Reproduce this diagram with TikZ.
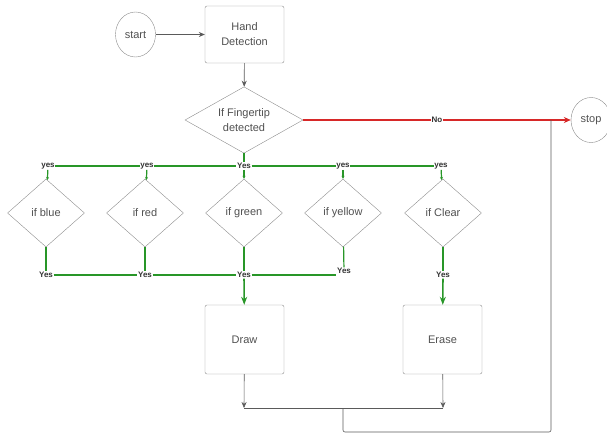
\documentclass[tikz,border=0pt]{standalone}
\usepackage{fontspec}
\setmainfont{Liberation Sans}
\usetikzlibrary{shapes.geometric,arrows.meta}
\definecolor{lgreen}{RGB}{40,150,40}
\definecolor{lred}{RGB}{215,40,40}
\definecolor{ltext}{RGB}{80,80,80}
\definecolor{lline}{RGB}{90,90,90}

\begin{document}
\begin{tikzpicture}[x=1pt,y=-1pt,
	box/.style={draw=gray!90,rectangle,rounded corners=2pt,minimum width=79,minimum height=57,text=ltext,align=center,font=\fontsize{11}{15}\selectfont},
	term/.style={draw=gray!90,ellipse,minimum width=40,minimum height=45,inner sep=0pt,text=ltext,font=\fontsize{11}{13}\selectfont},
	test/.style={draw=gray!90,diamond,aspect=1.2,inner sep=0pt,minimum width=77,minimum height=68,text=ltext,align=center,font=\fontsize{11}{15}\selectfont},
	lbl/.style={fill=white,inner sep=0.6pt,text=black!80,font=\fontsize{8}{9}\selectfont\bfseries},
	grn/.style={draw=lgreen,line width=1.2pt},
	flow/.style={draw=lline,line width=0.6pt}]
			\useasboundingbox (0,0) rectangle (607,434);
			\node[term] (start)at(135.5,34.5) {start};
			\node[box] (hand)at(244.5,34.5) {Hand\\Detection};
			\node[test,minimum width=118,minimum height=64] (tip)at(244,120) {If Fingertip\\detected};
			\node[term] (stop)at(591,120) {stop};
			\node[test] (blue)at(46,213) {if blue};
			\node[test] (red)at(145,213) {if red};
			\node[test] (green)at(244,213) {if green};
			\node[test] (yellow)at(343,213) {if yellow};
			\node[test] (clear)at(443,213) {if Clear};
			\node[box,minimum height=69] (drw)at(244.5,339.5) {Draw};
			\node[box,minimum height=69] (erase)at(442.5,339.5) {Erase};
			\node[lbl] (t1)at(48,166) {yes};
			\node[lbl] (t2)at(147,166) {yes};
			\node[lbl] (t3)at(244,166) {Yes};
			\node[lbl] (t4)at(343,166) {yes};
			\node[lbl] (t5)at(441,166) {yes};
			\node[lbl] (b1)at(46,275) {Yes};
			\node[lbl] (b2)at(145,275) {Yes};
			\node[lbl] (b3)at(244,275) {Yes};
			\node[lbl] (b4)at(344,271) {Yes};
			\node[lbl] (b5)at(443,275) {Yes};
			\coordinate (m1) at (244,408);
			\coordinate (m2) at (443,408);
			\coordinate (m3) at (343,408);
			\coordinate (c1) at (551,432);
			\coordinate (c2) at (551,120);
			\draw[flow,-{Stealth[length=6pt,width=5pt]}] (start) -- (hand);
			\draw[flow,-{Stealth[length=6pt,width=5pt]}] (hand) -- (tip);
			\draw[draw=lred,line width=1.4pt,-{Stealth[length=7pt,width=6pt]}] (tip) -- node[lbl,pos=0.5]{No} (stop);
			\draw[grn] (tip) -- (t3);
			\draw[grn] (t1) -- (t2);
			\draw[grn] (t2) -- (t3);
			\draw[grn] (t3) -- (t4);
			\draw[grn] (t4) -- (t5);
			\draw[grn,-{Stealth[length=3pt,width=3pt]}] (t1) -- (blue);
			\draw[grn,-{Stealth[length=3pt,width=3pt]}] (t2) -- (red);
			\draw[grn,-{Stealth[length=3pt,width=3pt]}] (t3) -- (green);
			\draw[grn,-{Stealth[length=3pt,width=3pt]}] (t4) -- (yellow);
			\draw[grn,-{Stealth[length=3pt,width=3pt]}] (t5) -- (clear);
			\draw[grn] (blue) -- (b1);
			\draw[grn] (red) -- (b2);
			\draw[grn] (green) -- (b3);
			\draw[grn] (yellow) -- (b4);
			\draw[grn] (clear) -- (b5);
			\draw[grn] (b1) -- (b2);
			\draw[grn] (b2) -- (b3);
			\draw[grn] (b3) -- (b3 -| b4.west);
			\draw[grn,line width=1.6pt,-{Stealth[length=8pt,width=6pt]}] (b3) -- (drw);
			\draw[grn,line width=1.6pt,-{Stealth[length=8pt,width=6pt]}] (b5) -- (erase);
			\draw[flow,-{Stealth[length=6pt,width=5pt]}] (drw) -- (m1);
			\draw[flow,-{Stealth[length=6pt,width=5pt]}] (erase) -- (m2);
			\draw[flow] (m1) -- (m2);
			\draw[flow,rounded corners=2pt] (m3) |- (c1) -- (c2);
			\end{tikzpicture}
\end{document}
